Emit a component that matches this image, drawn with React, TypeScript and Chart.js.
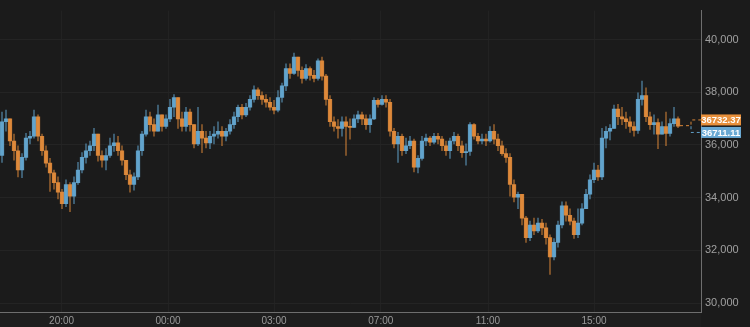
import React, { useEffect, useRef } from "react";
import { Chart, registerables } from "chart.js";

Chart.register(...registerables);

const firstOpen = 35600;

const closes = [
  36880, 36990, 36150, 35780, 35050, 35530, 36260, 36330, 37070, 36330,
  35780, 35310, 34940, 34570, 34210, 33770, 34500, 34060, 34570, 35050,
  35530, 35780, 35970, 36410, 35600, 35420, 35600, 35970, 36080, 35780,
  35420, 34870, 34500, 34790, 35780, 36410, 37070, 36770, 36520, 37140,
  36700, 36990, 37430, 37800, 36990, 36700, 37250, 36770, 36040, 36520,
  36260, 36080, 36330, 36410, 36520, 36330, 36520, 36770, 37070, 37430,
  37140, 37430, 37730, 38090, 37870, 37730, 37620, 37430, 37320, 37800,
  38240, 38900, 38720, 39340, 38830, 38530, 38900, 38640, 38530, 39190,
  38610, 37730, 36880, 36700, 36630, 36880, 36700, 36670, 36990, 37140,
  36990, 36770, 36990, 37690, 37540, 37730, 37620, 36520, 36040, 36330,
  35780, 35970, 36150, 35160, 35490, 36150, 36260, 36110, 36330, 36220,
  35970, 35780, 36150, 36330, 35970, 35710, 35750, 36770, 36330, 36150,
  36220, 36150, 36520, 36220, 35970, 35670, 35530, 34500, 34020, 34130,
  33220, 32480, 32960, 32740, 33030, 32850, 32480, 31750, 32300, 32960,
  33690, 33330, 33110, 32590, 33030, 33580, 34130, 34680, 35050, 34790,
  36260, 36520, 36630, 37360, 37070, 36990, 36880, 36700, 36550, 37730,
  37870, 37070, 36770, 36850, 36410, 36700, 36440, 36810, 36990, 36711.11,
];

const highs = [
  37250, 37320, 36770, 36410, 35970, 35670, 36440, 36520, 37320, 37140,
  36410, 35970, 35490, 35050, 34790, 34320, 34680, 34570, 34790, 35340,
  35710, 36040, 36150, 36630, 36410, 35780, 35860, 36260, 36410, 36330,
  35970, 35420, 35050, 34940, 35970, 36520, 37320, 37250, 36990, 37510,
  37140, 37140, 37730, 37910, 37730, 37250, 37430, 37360, 36770, 37430,
  36770, 36520, 36520, 36700, 36880, 36700, 36630, 36960, 37250, 37510,
  37540, 37580, 37870, 38240, 38170, 38020, 37910, 37800, 37690, 38060,
  38350, 39080, 39080, 39490, 39340, 38970, 39050, 38970, 38830, 39270,
  39340, 38680, 37870, 37070, 36960, 37070, 37070, 36990, 37140, 37290,
  37250, 37140, 37140, 37800, 37760, 37870, 37870, 37730, 36630, 36480,
  36410, 36260, 36330, 36220, 35600, 36330, 36410, 36330, 36440, 36440,
  36330, 36150, 36260, 36480, 36410, 36150, 36040, 36850, 36810, 36440,
  36410, 36410, 36700, 36770, 36410, 36150, 35860, 35670, 34680, 34210,
  34130, 33290, 33110, 33220, 33220, 33180, 33030, 32590, 32450, 33110,
  33840, 33840, 33580, 33220, 33580, 33770, 34320, 34870, 35310, 35230,
  36630, 36700, 36770, 37510, 37540, 37430, 37250, 37070, 36880, 37980,
  38420, 38170, 37250, 37140, 36990, 36880, 37250, 36990, 37430, 37070,
];

const lows = [
  35340, 36520, 35970, 35420, 34790, 34760, 35420, 36040, 36260, 36150,
  35600, 35160, 34240, 34320, 33950, 33580, 33660, 33470, 33770, 34500,
  34940, 35310, 35600, 35780, 35380, 35160, 35050, 35530, 35750, 35600,
  35230, 34680, 34210, 34280, 34680, 35600, 36330, 36520, 36330, 36520,
  36520, 36630, 36880, 37070, 36630, 36520, 36520, 36520, 35890, 35970,
  35710, 35890, 35860, 36040, 36260, 35970, 36150, 36410, 36630, 36880,
  36990, 37070, 37320, 37620, 37730, 37540, 37430, 37320, 37180, 37250,
  37620, 38060, 38530, 38680, 38610, 38350, 38460, 38460, 38390, 38460,
  38460, 37510, 36700, 36520, 36260, 36330, 35600, 36220, 36700, 36850,
  36770, 36590, 36480, 36960, 37430, 37510, 37430, 36330, 35890, 35340,
  35600, 35670, 35860, 34980, 34940, 35420, 35970, 35970, 36040, 36040,
  35780, 35600, 35490, 36040, 35780, 35530, 35230, 35600, 36220, 36040,
  36040, 35970, 36110, 36040, 35780, 35600, 35340, 34060, 33840, 33580,
  32960, 32300, 32370, 32590, 32670, 32590, 32230, 31090, 31640, 32120,
  32850, 33110, 32960, 32450, 32480, 32960, 33580, 33950, 34570, 34650,
  34680, 35890, 36190, 36630, 36770, 36770, 36630, 36480, 36330, 36440,
  37510, 36880, 36590, 36410, 35860, 36440, 35970, 36330, 36700, 36660,
];

const timeLabels = ["20:00", "00:00", "03:00", "07:00", "11:00", "15:00"];
const timeTickSlots = [14.9, 41.5, 68, 94.7, 121.5, 148];
const priceTicks = [30000, 32000, 34000, 36000, 38000, 40000];
const lastAsk = 36732.37;
const lastBid = 36711.11;

const FONT = "Arial, 'Liberation Sans', Helvetica, sans-serif";
const UP = "rgba(104,174,218,0.88)";
const DOWN = "rgba(236,145,60,0.88)";
const UP_WICK = "rgba(104,174,218,0.55)";
const DOWN_WICK = "rgba(236,145,60,0.55)";

export default function App() {
  const ref = useRef<HTMLCanvasElement>(null);

  useEffect(() => {
    if (!ref.current) return;
    const opens = closes.map((c, i) => (i === 0 ? firstOpen : closes[i - 1]));
    const isUp = closes.map((c, i) => c >= opens[i]);
    const wickData = closes.map((c, i) => ({
      x: i,
      y: [Math.min(lows[i], opens[i], c), Math.max(highs[i], opens[i], c)],
    }));
    const bodyData = closes.map((c, i) => ({ x: i, y: [opens[i], c] }));

    const bgPlugin = {
      id: "bg",
      beforeDraw(chart: any) {
        const { ctx, width, height, chartArea } = chart;
        ctx.save();
        ctx.fillStyle = "#1b1b1b";
        ctx.fillRect(0, 0, width, height);
        ctx.fillStyle = "#1e1e1e";
        ctx.fillRect(0, chartArea.bottom, chartArea.right, height - chartArea.bottom);
        ctx.restore();
      },
    };

    const labelPlugin = {
      id: "lastLabels",
      afterDraw(chart: any) {
        const { ctx, chartArea } = chart;
        const ys = chart.scales.y;
        const xs = chart.scales.x;
        const yA = ys.getPixelForValue(lastAsk);
        const yB = ys.getPixelForValue(lastBid);
        const mid = (yA + yB) / 2;
        const boxA = mid - 6;
        const boxB = mid + 6.5;
        const xLast = xs.getPixelForValue(closes.length - 1) + 2;
        const xBend = chartArea.right - 10;
        ctx.save();
        ctx.lineWidth = 1;
        ctx.setLineDash([3, 3]);
        ctx.strokeStyle = "rgba(236,145,60,0.9)";
        ctx.beginPath();
        ctx.moveTo(xLast, yA);
        ctx.lineTo(xBend, yA);
        ctx.lineTo(xBend, boxA);
        ctx.lineTo(chartArea.right, boxA);
        ctx.stroke();
        ctx.strokeStyle = "rgba(104,174,218,0.9)";
        ctx.beginPath();
        ctx.moveTo(xBend, yB);
        ctx.lineTo(xBend, boxB);
        ctx.lineTo(chartArea.right, boxB);
        ctx.stroke();
        ctx.setLineDash([]);
        const bx = chartArea.right;
        const bw = 40;
        const bh = 11;
        ctx.fillStyle = "#e8903c";
        ctx.fillRect(bx, boxA - bh / 2, bw, bh);
        ctx.fillStyle = "#6aa9d3";
        ctx.fillRect(bx, boxB - bh / 2, bw, bh);
        ctx.fillStyle = "#ffffff";
        ctx.font = "bold 9.5px " + FONT;
        ctx.textAlign = "center";
        ctx.textBaseline = "middle";
        ctx.fillText(lastAsk.toFixed(2), bx + bw / 2, boxA + 0.5);
        ctx.fillText(lastBid.toFixed(2), bx + bw / 2, boxB + 0.5);
        ctx.restore();
      },
    };

    const chart = new Chart(ref.current, {
      type: "bar",
      data: {
        datasets: [
          {
            data: wickData as any,
            backgroundColor: isUp.map((u) => (u ? UP_WICK : DOWN_WICK)),
            borderWidth: 0,
            barThickness: 1,
            grouped: false,
            order: 2,
          } as any,
          {
            data: bodyData as any,
            backgroundColor: isUp.map((u) => (u ? UP : DOWN)),
            borderWidth: 0,
            barThickness: 3.6,
            minBarLength: 1,
            grouped: false,
            order: 1,
          } as any,
        ],
      },
      options: {
        animation: false,
        responsive: false,
        maintainAspectRatio: false,
        layout: { padding: 0 },
        plugins: {
          legend: { display: false },
          tooltip: { enabled: false },
        },
        scales: {
          x: {
            type: "linear",
            position: "bottom",
            min: -0.5,
            max: 174.75,
            offset: false,
            grid: { color: "#222222", drawTicks: false, offset: false },
            border: { color: "#6e6e6e", width: 1 },
            ticks: {
              color: "#9a9a9a",
              font: { size: 10, family: FONT },
              padding: 3,
              maxRotation: 0,
              autoSkip: false,
              callback: (v: any) => {
                const k = timeTickSlots.indexOf(Number(v));
                return k >= 0 ? timeLabels[k] : "";
              },
            },
            afterBuildTicks: (s: any) => {
              s.ticks = timeTickSlots.map((v) => ({ value: v }));
            },
            afterFit: (s: any) => {
              s.height = 15;
            },
          },
          y: {
            type: "linear",
            position: "right",
            min: 29659,
            max: 41100,
            beginAtZero: false,
            grid: { color: "#242424", drawTicks: false },
            border: { color: "#6e6e6e", width: 1 },
            ticks: {
              color: "#a0a0a0",
              font: { size: 11, family: FONT },
              padding: 4,
              callback: (v: any) => Number(v).toLocaleString("en-US"),
            },
            afterBuildTicks: (s: any) => {
              s.ticks = priceTicks.map((v) => ({ value: v }));
            },
            afterFit: (s: any) => {
              s.width = 49;
            },
          },
        },
      } as any,
      plugins: [bgPlugin, labelPlugin],
    });

    return () => chart.destroy();
  }, []);

  return (
    <div style={{ position: "fixed", left: 0, top: 0, width: 750, height: 327 }}>
      <canvas ref={ref} width={750} height={327} style={{ display: "block" }} />
    </div>
  );
}
